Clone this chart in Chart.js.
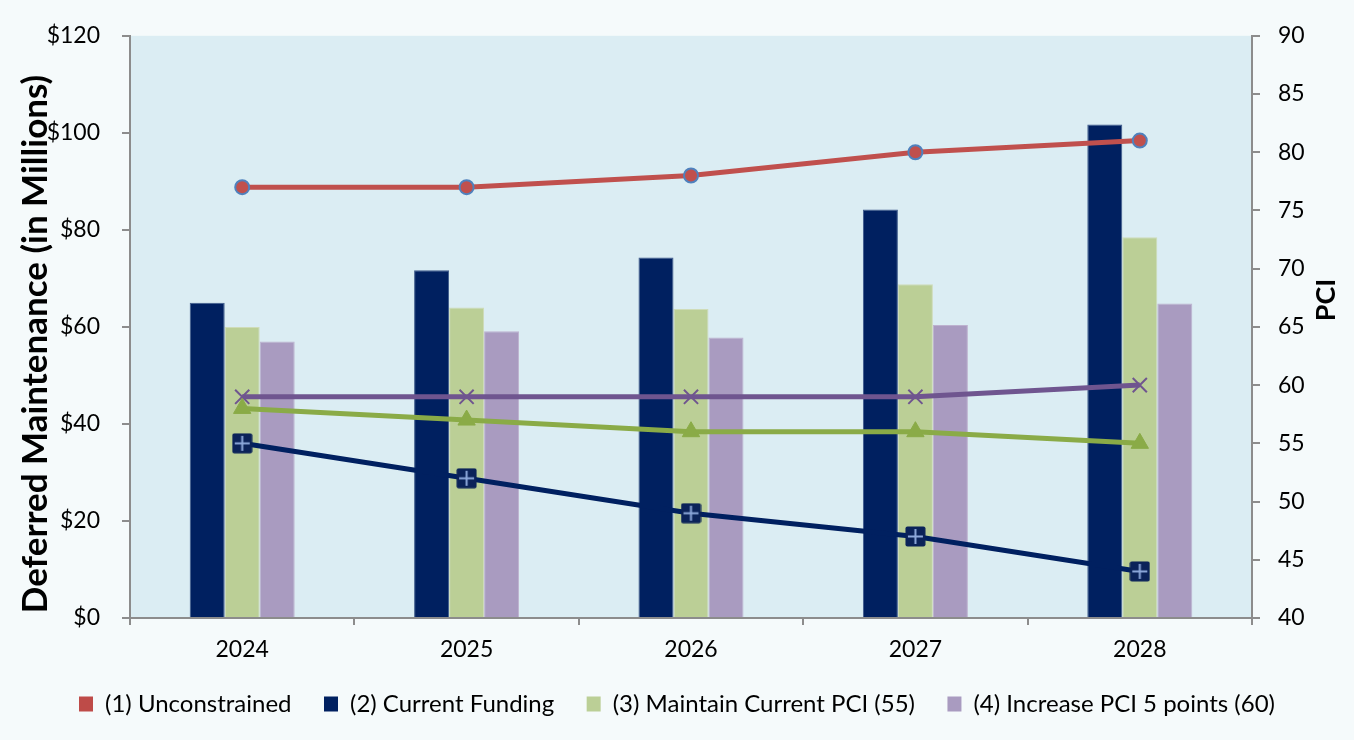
<!DOCTYPE html>
<html>
<head>
<meta charset="utf-8">
<script src="https://cdn.jsdelivr.net/npm/chart.js@4/dist/chart.umd.min.js"></script>
<style>
  html, body { margin: 0; padding: 0; background: #f5fafb; }
  #wrap { width: 1354px; height: 740px; }
</style>
</head>
<body>
<div id="wrap"><canvas id="pciChart" width="1354" height="740"></canvas></div>
<script>
// data
var years = ['2024', '2025', '2026', '2027', '2028'];
var currentFundingCost = [65, 71.7, 74.3, 84.2, 101.7];
var maintainCost = [60, 64, 63.7, 68.8, 78.5];
var increaseCost = [57, 59.1, 57.8, 60.4, 64.8];
var unconstrainedPci = [77, 77, 78, 80, 81];
var currentFundingPci = [55, 52, 49, 47, 44];
var maintainPci = [58, 57, 56, 56, 55];
var increasePci = [59, 59, 59, 59, 60];
var legendNames = ['(1) Unconstrained', '(2) Current Funding', '(3) Maintain Current PCI (55)', '(4) Increase PCI 5 points (60)'];
var legendColors = ['#be4b48', '#002060', '#bbcf96', '#a99bc0'];

var FONT = 'Lato, "Open Sans", sans-serif';

// square marker with a light plus sign, as in the Excel original
var squarePlus = document.createElement('canvas');
squarePlus.width = 21; squarePlus.height = 21;
(function () {
    var c = squarePlus.getContext('2d');
    c.fillStyle = '#0b2359';
    c.beginPath();
    c.roundRect(0.5, 0.5, 20, 20, 2);
    c.fill();
    c.strokeStyle = '#8ea9db';
    c.lineWidth = 2;
    c.beginPath();
    c.moveTo(10.5, 3); c.lineTo(10.5, 18);
    c.moveTo(3, 10.5); c.lineTo(18, 10.5);
    c.stroke();
})();

function drawRotated(ctx, text, x, y, size) {
    ctx.save();
    ctx.translate(x, y);
    ctx.rotate(-Math.PI / 2);
    ctx.font = 'bold ' + size + 'px ' + FONT;
    ctx.fillStyle = '#000';
    ctx.textAlign = 'center';
    ctx.textBaseline = 'middle';
    ctx.fillText(text, 0, 0);
    ctx.restore();
}

var backgrounds = {
    id: 'backgrounds',
    beforeDraw: function (chart) {
        var ctx = chart.ctx, a = chart.chartArea;
        ctx.save();
        ctx.fillStyle = '#f5fafb';
        ctx.fillRect(0, 0, chart.width, chart.height);
        ctx.fillStyle = '#dbedf3';
        ctx.fillRect(a.left, a.top, a.right - a.left, a.bottom - a.top);
        ctx.restore();
    },
    afterDraw: function (chart) {
        // both axis titles read bottom-to-top
        drawRotated(chart.ctx, 'Deferred Maintenance (in Millions)', 36, 344, 35);
        drawRotated(chart.ctx, 'PCI', 1326, 300, 27);
    }
};

var chart = new Chart(document.getElementById('pciChart'), {
    type: 'bar',
    data: {
        labels: years,
        datasets: [
            {
                type: 'line', label: '(1) Unconstrained', data: unconstrainedPci, yAxisID: 'yPci', order: 0,
                borderColor: '#c0504d', borderWidth: 5, pointRadius: 7, pointHoverRadius: 7,
                pointBackgroundColor: '#c0504d', pointBorderColor: '#4f81bd', pointBorderWidth: 2
            },
            {
                type: 'line', label: 'Current Funding PCI', data: currentFundingPci, yAxisID: 'yPci', order: 0,
                borderColor: '#002060', borderWidth: 5, pointStyle: squarePlus
            },
            {
                type: 'line', label: 'Maintain PCI', data: maintainPci, yAxisID: 'yPci', order: 0,
                borderColor: '#8aab47', borderWidth: 5, pointStyle: 'triangle', pointRadius: 10,
                pointBackgroundColor: '#8aab47', pointBorderColor: '#8aab47', pointBorderWidth: 1
            },
            {
                type: 'line', label: 'Increase PCI', data: increasePci, yAxisID: 'yPci', order: 0,
                borderColor: '#6f558f', borderWidth: 5, pointStyle: 'crossRot', pointRadius: 10,
                pointBorderColor: '#6f558f', pointBorderWidth: 2
            },
            {
                label: '(2) Current Funding', data: currentFundingCost, yAxisID: 'yCost', order: 1,
                backgroundColor: '#002060', borderColor: '#3d5a8a', borderWidth: 1,
                barPercentage: 1, categoryPercentage: 0.468
            },
            {
                label: '(3) Maintain Current PCI (55)', data: maintainCost, yAxisID: 'yCost', order: 1,
                backgroundColor: '#bbcf96', borderColor: '#cfdcb8', borderWidth: 1,
                barPercentage: 1, categoryPercentage: 0.468
            },
            {
                label: '(4) Increase PCI 5 points (60)', data: increaseCost, yAxisID: 'yCost', order: 1,
                backgroundColor: '#a99bc0', borderColor: '#bdb2cf', borderWidth: 1,
                barPercentage: 1, categoryPercentage: 0.468
            }
        ]
    },
    options: {
        responsive: false,
        animation: false,
        layout: { padding: { top: 31, left: 0, right: 0, bottom: 14 } },
        plugins: {
            tooltip: { enabled: false },
            legend: {
                position: 'bottom',
                labels: {
                    font: { family: FONT, size: 24 },
                    color: '#000',
                    boxWidth: 14,
                    boxHeight: 15,
                    padding: 14,
                    generateLabels: function () {
                        return legendNames.map(function (name, i) {
                            // a few trailing spaces widen the gap between entries
                            var text = i < legendNames.length - 1 ? name + '\u00a0\u00a0\u00a0' : name;
                            return { text: text, fillStyle: legendColors[i], strokeStyle: legendColors[i], lineWidth: 0, datasetIndex: i };
                        });
                    }
                }
            }
        },
        scales: {
            x: {
                offset: true,
                grid: { offset: true, drawOnChartArea: false, tickLength: 7, color: '#8c8c8c', lineWidth: 2 },
                border: { color: '#8c8c8c', width: 2 },
                ticks: { font: { family: FONT, size: 23 }, color: '#000', padding: 11 },
                afterFit: function (s) { s.height = 60; }
            },
            yCost: {
                position: 'left',
                min: 0, max: 120,
                ticks: {
                    stepSize: 20, font: { family: FONT, size: 23 }, color: '#000', padding: 22,
                    callback: function (v) { return '$' + v; }
                },
                grid: { drawOnChartArea: false, tickLength: 8, color: '#8c8c8c', lineWidth: 2 },
                border: { color: '#8c8c8c', width: 2 },
                afterFit: function (s) { s.width = 130; }
            },
            yPci: {
                position: 'right',
                min: 40, max: 90,
                ticks: { stepSize: 5, font: { family: FONT, size: 23 }, color: '#000', padding: 18 },
                grid: { drawOnChartArea: false, tickLength: 8, color: '#8c8c8c', lineWidth: 2 },
                border: { color: '#8c8c8c', width: 2 },
                afterFit: function (s) { s.width = 102; }
            }
        }
    },
    plugins: [backgrounds]
});
</script>
</body>
</html>
